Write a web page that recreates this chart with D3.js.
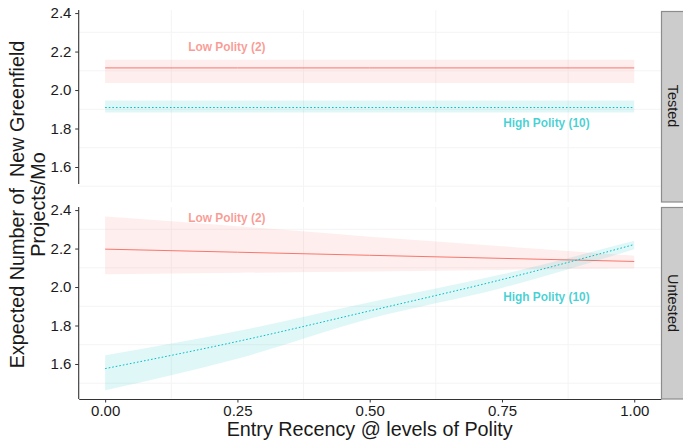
<!DOCTYPE html>
<html lang="en">
  <head>
    <meta charset="UTF-8" />
    <title>Expected Greenfield Projects</title>
    <script src="https://d3js.org/d3.v7.min.js"></script>
    <style>
      body { margin: 0; background: #fff; }
      svg text { font-family: "Liberation Sans", Arial, Helvetica, sans-serif; white-space: pre; }
    </style>
  </head>
  <body>
    <div id="chart"></div>
    <script>
      // facet panels and x values
      const panels = ["Tested", "Untested"];
      const recency = [0, 0.25, 0.5, 0.75, 1];
      const groups = ["Low Polity (2)", "High Polity (10)"];

      // fitted values + confidence bands, per panel and group
      const testedLowFit = [2.115, 2.115, 2.115, 2.115, 2.115];
      const testedLowLo = [2.036, 2.036, 2.036, 2.036, 2.036];
      const testedLowHi = [2.158, 2.158, 2.158, 2.158, 2.158];
      const testedHighFit = [1.909, 1.909, 1.909, 1.909, 1.909];
      const testedHighLo = [1.883, 1.883, 1.883, 1.883, 1.883];
      const testedHighHi = [1.945, 1.945, 1.945, 1.945, 1.945];

      const untestedLowFit = [2.197, 2.181, 2.165, 2.149, 2.133];
      const untestedLowLo = [2.067, 2.074, 2.081, 2.089, 2.096];
      const untestedLowHi = [2.367, 2.316, 2.262, 2.212, 2.163];
      const untestedHighFit = [1.576, 1.717, 1.876, 2.039, 2.221];
      const untestedHighLo = [1.463, 1.627, 1.835, 1.995, 2.197];
      const untestedHighHi = [1.645, 1.771, 1.921, 2.066, 2.24];

      // text labels placed inside each panel (data units)
      const labelX = [0.23, 0.834];
      const testedLabelY = [2.225, 1.829];
      const untestedLabelY = [2.358, 1.946];

      const xTicks = [0, 0.25, 0.5, 0.75, 1];
      const yTicks = [1.6, 1.8, 2.0, 2.2, 2.4];

      const series = {
        Tested: [
          { fit: testedLowFit, lo: testedLowLo, hi: testedLowHi },
          { fit: testedHighFit, lo: testedHighLo, hi: testedHighHi },
        ],
        Untested: [
          { fit: untestedLowFit, lo: untestedLowLo, hi: untestedLowHi },
          { fit: untestedHighFit, lo: untestedHighLo, hi: untestedHighHi },
        ],
      };
      const labelY = { Tested: testedLabelY, Untested: untestedLabelY };

      const width = 683;
      const height = 441;
      const left = 78.7;
      const right = 660.7;
      const panelTop = [10, 207];
      const panelH = 192;

      const colors = ["#F8766D", "#00BFC4"];
      const dashes = [null, "1.6,2"];

      const svg = d3
        .select("#chart")
        .append("svg")
        .attr("width", width)
        .attr("height", height);

      const x = d3.scaleLinear().domain([-0.05, 1.05]).range([left, right]);
      const xMinor = [0.125, 0.375, 0.625, 0.875];
      const yMinor = [1.5, 1.7, 1.9, 2.1, 2.3];

      panels.forEach((p, pi) => {
        const top = panelTop[pi];
        const y = d3
          .scaleLinear()
          .domain([1.418, 2.416])
          .range([top + panelH, top]);
        const g = svg.append("g");

        // minor grid only (major grid is blank in the original)
        g.selectAll(".gx")
          .data(xMinor)
          .enter()
          .append("line")
          .attr("x1", (d) => x(d))
          .attr("x2", (d) => x(d))
          .attr("y1", top)
          .attr("y2", top + panelH)
          .attr("stroke", "#f4f4f4");
        g.selectAll(".gy")
          .data(yMinor)
          .enter()
          .append("line")
          .attr("x1", left)
          .attr("x2", right)
          .attr("y1", (d) => y(d))
          .attr("y2", (d) => y(d))
          .attr("stroke", "#f4f4f4");

        const area = d3
          .area()
          .x((d) => x(d.x))
          .y0((d) => y(d.lo))
          .y1((d) => y(d.hi))
          .curve(d3.curveMonotoneX);
        const line = d3
          .line()
          .x((d) => x(d.x))
          .y((d) => y(d.fit))
          .curve(d3.curveMonotoneX);

        series[p].forEach((s, si) => {
          const pts = recency.map((r, i) => ({
            x: r,
            fit: s.fit[i],
            lo: s.lo[i],
            hi: s.hi[i],
          }));
          g.append("path")
            .attr("d", area(pts))
            .attr("fill", colors[si])
            .attr("fill-opacity", 0.12);
          g.append("path")
            .attr("d", line(pts))
            .attr("fill", "none")
            .attr("stroke", colors[si])
            .attr("stroke-width", 1)
            .attr("stroke-dasharray", dashes[si]);
        });

        g.selectAll(".lab")
          .data(groups)
          .enter()
          .append("text")
          .attr("x", (d, i) => x(labelX[i]))
          .attr("y", (d, i) => y(labelY[p][i]))
          .attr("text-anchor", "middle")
          .attr("dominant-baseline", "central")
          .attr("font-size", 11.9)
          .attr("font-weight", "bold")
          .attr("fill", (d, i) => colors[i])
          .attr("fill-opacity", 0.72)
          .text((d) => d);

        // y axis
        const yAxis = g
          .append("g")
          .attr("transform", `translate(${left},0)`)
          .call(
            d3.axisLeft(y).tickValues(yTicks).tickSize(3.5).tickSizeOuter(0).tickFormat(d3.format(".1f"))
          );
        yAxis.select(".domain").remove();
        yAxis.selectAll("text").attr("font-size", 15).attr("fill", "#1a1a1a").attr("dx", "-0.05em");
        yAxis.selectAll("line").attr("stroke", "#333");
        // the original's top axis line stops short of the panel bottom
        g.append("line")
          .attr("x1", left)
          .attr("x2", left)
          .attr("y1", top)
          .attr("y2", pi === 0 ? top + panelH - 18 : top + panelH)
          .attr("stroke", "#333")
          .attr("stroke-width", 1.1);

        // strip
        g.append("rect")
          .attr("x", 661.5)
          .attr("y", top + (pi === 0 ? 1.5 : 0.5))
          .attr("width", 40)
          .attr("height", panelH - (pi === 0 ? 1.5 : 0.5))
          .attr("fill", "#cccccc")
          .attr("stroke", "#8c8c8c")
          .attr("stroke-width", 1.2);
        g.append("text")
          .attr("transform", `translate(672.5,${top + panelH / 2}) rotate(90)`)
          .attr("text-anchor", "middle")
          .attr("dominant-baseline", "central")
          .attr("font-size", 14.5)
          .attr("fill", "#1a1a1a")
          .text(p);
      });

      // x axis on the bottom panel
      const xAxis = svg
        .append("g")
        .attr("transform", `translate(0,${panelTop[1] + panelH})`)
        .call(
          d3.axisBottom(x).tickValues(xTicks).tickSize(3.5).tickSizeOuter(0).tickFormat(d3.format(".2f"))
        );
      xAxis.select(".domain").attr("stroke", "#333").attr("stroke-width", 1.1);
      xAxis.selectAll("line").attr("stroke", "#333");
      xAxis.selectAll("text").attr("font-size", 15).attr("fill", "#1a1a1a");

      // axis titles
      svg
        .append("text")
        .attr("x", (left + right) / 2)
        .attr("y", 436)
        .attr("text-anchor", "middle")
        .attr("font-size", 19.8)
        .attr("fill", "#1a1a1a")
        .text("Entry Recency @ levels of Polity");

      const yTitle = svg
        .append("text")
        .attr("transform", `translate(0,${(panelTop[0] + panelTop[1] + panelH) / 2}) rotate(-90)`)
        .attr("text-anchor", "middle")
        .attr("font-size", 19.8)
        .attr("fill", "#1a1a1a");
      yTitle.append("tspan").attr("x", 0).attr("y", 24).text("Expected Number of  New Greenfield");
      yTitle.append("tspan").attr("x", 0).attr("y", 45).text("Projects/Mo");
    </script>
  </body>
</html>
